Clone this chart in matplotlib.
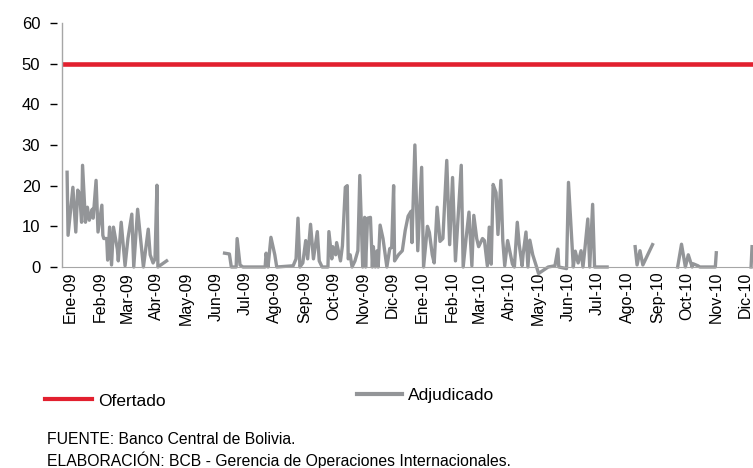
import matplotlib.pyplot as plt
import pandas as pd
from matplotlib.lines import Line2D

plt.rcParams['font.family'] = ['Liberation Sans', 'DejaVu Sans']

# montos ofertados y adjudicados (millones de $us)
inicio = pd.Timestamp('2009-01-01')
meses = ['Ene', 'Feb', 'Mar', 'Abr', 'May', 'Jun', 'Jul', 'Ago', 'Sep', 'Oct', 'Nov', 'Dic']
etiquetas = [f'{m}-{a}' for a in ('09', '10') for m in meses]
ofertado = 49.8

# dias desde el 1 de enero de 2009; None = sin subasta
dias = [-3, -2, 3, 6, 8, 10, 12, 13, 16, 18, 20, 23, 24, 27, 29, 33, 34, 35, 38, 39,
        41, 43, 45, 49, 50, 53, 57, 60, 64, 66, 70, 76, 81, 83, 86, 88, 90, 91, 100,
        130,
        160, 165, 167, 172, 173, 176, 179, 202, 203, 205, 208, 212, 214, 231, 234, 236,
        238, 241, 244, 246, 249, 252, 256, 258, 261, 267, 268, 271, 272, 275, 276, 280,
        282, 285, 287, 288, 290, 292, 295, 298, 300, 303, 305, 306, 308, 311, 313, 314,
        316, 318, 319, 321, 324, 328, 331, 333, 335, 336, 340, 344, 347, 350, 353, 354,
        357, 360, 364, 366, 370, 372, 375, 377, 380, 383, 386, 390, 393, 396, 399, 405,
        407, 410, 413, 416, 418, 421, 423, 427, 429, 432, 434, 436, 438, 441, 443, 446,
        448, 450, 453, 458, 460, 463, 465, 468, 469, 472, 474, 476, 479, 483, 485, 490,
        495, 502, 505, 506, 514, 516, 521, 523, 526, 529, 531, 533, 536, 538, 541, 543,
        556,
        570,
        585, 587, 590, 593, 603,
        615,
        629, 633, 637, 640, 644, 645, 650, 652, 668, 669,
        690,
        705, 706]
adjudicado = [23.3, 7.8, 19.6, 8.6, 18.9, 18, 11, 25, 11, 14.7, 11.5, 14.2, 12, 21.3, 8.6, 15.2, 7.8, 7, 7, 1.7,
              9.8, 0.5, 9.8, 4.4, 1.5, 11, 0.3, 7, 13, 0, 14.2, 0, 9.3, 3, 1, 2, 20.1, 0, 1.5,
              None,
              3.4, 3.2, 0, 0, 7, 0.5, 0, 0, 3.4, 0, 7.3, 3, 0, 0.3, 2, 12,
              0, 1, 6.5, 2, 10.5, 2, 8.7, 1.5, 0, 0, 8.7, 2, 5, 3, 6, 1.5,
              5.2, 19.6, 20, 2, 3, 0, 1.5, 4, 22.5, 0, 12.2, 0, 12, 12.2, 0, 5,
              0, 4, 0, 10.3, 7, 0, 4.5, 4.8, 20, 1.5, 3, 4, 9, 12.5, 13.7, 6,
              30, 4, 24.5, 0, 10, 8.5, 3, 1, 14.7, 6.3, 7, 26.2, 5.5, 22, 1.5, 25,
              0, 7, 13.5, 0.3, 12.7, 7, 5, 7, 6.5, 0.3, 9.8, 0.7, 20.3, 18.3, 8, 21.3,
              6.5, 0.3, 6.5, 0.7, 0, 11, 5.5, 0.3, 3, 8.6, 0, 6.6, 3, 0, -1.6, -0.8,
              0, 0.3, 4.4, 0, -0.4, 20.8, 0, 3.9, 1, 4, 0, 4.5, 11.8, 0, 15.4, 0,
              0,
              None,
              5, 0.5, 4, 0.5, 5.5,
              None,
              0, 5.6, 0, 3, 0, 0.8, 0.3, 0, 0, 3.5,
              None,
              0, 5]

rojo = '#e2202f'
gris = '#939598'

fechas = inicio + pd.to_timedelta(dias, unit='D')
serie = pd.Series(adjudicado, index=fechas, dtype=float)

fig = plt.figure(figsize=(7.53, 4.68), dpi=100)
ax = fig.add_axes([0.0823, 0.4295, 0.9177, 0.5214])

ax.axhline(ofertado, color=rojo, lw=3.3, solid_capstyle='butt')
ax.plot(serie.index, serie.values, color=gris, lw=2.4, clip_on=False)

ax.set_xlim(inicio - pd.Timedelta(days=8.3), inicio + pd.Timedelta(days=707))
ax.set_ylim(0, 60)
ax.set_yticks(range(0, 61, 10))
ax.set_xticks(pd.date_range(inicio, periods=len(etiquetas), freq='MS'))
ax.set_xticklabels(etiquetas, rotation=90)

for lado in ['top', 'right']:
    ax.spines[lado].set_visible(False)
ax.spines['bottom'].set_color('#a6a6a6')
ax.spines['left'].set_position(('outward', 3.6))
ax.spines['left'].set_visible(False)
ax.plot([0, 0], [0, 1], transform=ax.transAxes, color='#a6a6a6', lw=1, clip_on=False)

ax.tick_params(axis='y', length=5, width=1, color='black', pad=7, labelsize=12)
ax.tick_params(axis='x', length=0, pad=3.5, labelsize=11.5)

h1 = Line2D([], [], color=rojo, lw=3)
h2 = Line2D([], [], color=gris, lw=3)
fig.legend([h1], ['Ofertado'], loc='center left', bbox_to_anchor=(45 / 753, 1 - 401 / 468),
           frameon=False, fontsize=12.5, handlelength=2.7, handletextpad=0.35,
           borderpad=0, borderaxespad=0)
fig.legend([h2], ['Adjudicado'], loc='center left', bbox_to_anchor=(357 / 753, 1 - 395 / 468),
           frameon=False, fontsize=12.5, handlelength=2.6, handletextpad=0.35,
           borderpad=0, borderaxespad=0)

fig.text(47 / 753, 1 - 439 / 468, 'FUENTE: Banco Central de Bolivia.', va='center', fontsize=11.3)
fig.text(47 / 753, 1 - 460 / 468, 'ELABORACIÓN: BCB - Gerencia de Operaciones Internacionales.',
         va='center', fontsize=11.3)

fig.savefig('out.png', dpi=100)
